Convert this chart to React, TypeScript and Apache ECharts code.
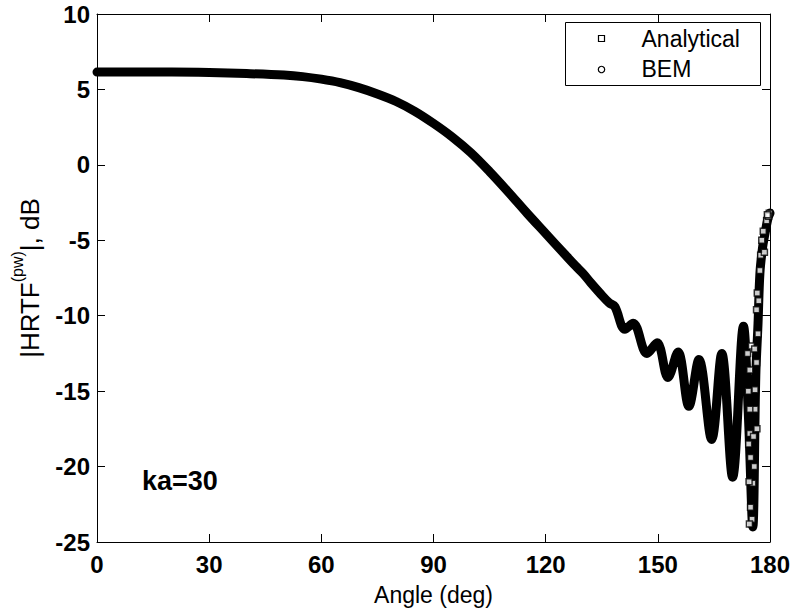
import React, { useEffect, useRef } from "react";
import * as echarts from "echarts";

// Angle (deg) and |HRTF| (dB)
const bemAngles = [
  0, 10, 20, 30, 40, 50, 55, 60, 65, 70, 75, 80, 85, 90, 95, 100, 105, 110, 115,
  120, 125, 128, 130, 132, 134.5, 137, 138.5, 141.2, 143.4, 147.1, 149.8, 152.7,
  155.4, 158.3, 161, 164.4, 167.1, 170, 172.9, 174.2, 175.4, 176.2, 176.8, 177.3,
  178, 178.7, 179.5, 180,
];
const bemValues = [
  6.15, 6.15, 6.15, 6.12, 6.05, 5.95, 5.85, 5.68, 5.45, 5.12, 4.7, 4.2, 3.55,
  2.75, 1.85, 0.8, -0.45, -1.8, -3.2, -4.55, -5.9, -6.7, -7.2, -7.8, -8.5, -9.15,
  -9.4, -10.9, -10.5, -12.5, -11.8, -14.1, -12.4, -16.0, -12.9, -18.2, -12.5,
  -20.7, -10.7, -16.5, -24.0, -14.0, -10.5, -7.2, -5.5, -4.5, -3.5, -3.2,
];
const anaAngles = [
  174.6, 176.0, 174.6, 176.0, 176.4, 177.3, 174.8, 175.4, 174.8, 176.8, 176.4,
  177.8, 179.1, 174.6, 179.8, 179.6, 175.2, 174.0, 174.2, 174.3, 174.4, 174.5,
  175.0, 175.6, 175.8, 175.9, 176.5, 176.6, 177.0, 177.5, 178.2, 178.5, 179.3,
];
const anaValues = [
  -13.6, -14.9, -17.8, -16.2, -9.6, -7.0, -19.4, -21.1, -22.7, -11.2, -13.1,
  -5.0, -3.7, -16.2, -3.2, -3.4, -23.5, -12.5, -15.0, -18.5, -21.0, -23.8,
  -12.0, -18.0, -20.0, -12.2, -17.5, -8.5, -9.0, -6.0, -4.4, -5.8, -3.3,
];
const xRange = { min: 0, max: 180, interval: 30 };
const yRange = { min: -25, max: 10, interval: 5 };
const xTitle = "Angle (deg)";
const annotation = "ka=30";
const legendNames = ["Analytical", "BEM"];

const FONT = "'Liberation Sans', Arial, Helvetica, sans-serif";

export default function App() {
  const ref = useRef<HTMLDivElement>(null);
  useEffect(() => {
    if (!ref.current) return;
    const chart = echarts.init(ref.current, null, { renderer: "svg" });
    const tickCommon = {
      show: true,
      inside: true,
      length: 8,
      lineStyle: { color: "#000", width: 1 },
    };
    const lineCommon = { show: true, onZero: false, lineStyle: { color: "#000", width: 1 } };
    const legendTextStyle = { fontSize: 23, fontFamily: FONT, fill: "#000", verticalAlign: "middle" };
    chart.setOption({
      animation: false,
      backgroundColor: "#fff",
      grid: { left: 97, right: 27, top: 14, bottom: 73, containLabel: false },
      xAxis: [
        {
          type: "value",
          position: "bottom",
          ...xRange,
          name: xTitle,
          nameLocation: "middle",
          nameGap: 41,
          nameTextStyle: { fontSize: 23, fontFamily: FONT, color: "#000" },
          axisLine: lineCommon,
          axisTick: tickCommon,
          splitLine: { show: false },
          axisLabel: { fontSize: 24, fontWeight: "bold", fontFamily: FONT, color: "#000", margin: 10 },
        },
        {
          type: "value",
          position: "top",
          ...xRange,
          axisLine: lineCommon,
          axisTick: tickCommon,
          splitLine: { show: false },
          axisLabel: { show: false },
        },
      ],
      yAxis: [
        {
          type: "value",
          position: "left",
          ...yRange,
          name: "{m||HRTF}{s|(pw)}{m||, dB}",
          nameLocation: "middle",
          nameRotate: 90,
          nameGap: 54,
          nameTextStyle: {
            fontSize: 26,
            fontFamily: FONT,
            color: "#000",
            rich: {
              m: { fontSize: 26, fontFamily: FONT, color: "#000", verticalAlign: "bottom", lineHeight: 34 },
              s: { fontSize: 16, fontFamily: FONT, color: "#000", verticalAlign: "top", lineHeight: 34 },
            },
          },
          axisLine: lineCommon,
          axisTick: tickCommon,
          splitLine: { show: false },
          axisLabel: { fontSize: 24, fontWeight: "bold", fontFamily: FONT, color: "#000", margin: 7 },
        },
        {
          type: "value",
          position: "right",
          ...yRange,
          axisLine: lineCommon,
          axisTick: tickCommon,
          splitLine: { show: false },
          axisLabel: { show: false },
        },
      ],
      graphic: [
        {
          type: "text",
          left: 142,
          top: 467,
          style: { text: annotation, fontSize: 27, fontWeight: "bold", fontFamily: FONT, fill: "#000" },
        },
        {
          type: "group",
          left: 565,
          top: 22,
          z: 100,
          children: [
            {
              type: "rect",
              shape: { x: 0, y: 0, width: 195, height: 63 },
              style: { fill: "#fff", stroke: "#000", lineWidth: 1 },
            },
            {
              type: "rect",
              shape: { x: 33, y: 13, width: 6, height: 6 },
              style: { fill: "#fff", stroke: "#000", lineWidth: 1.2 },
            },
            {
              type: "circle",
              shape: { cx: 36, cy: 47, r: 3.2 },
              style: { fill: "#fff", stroke: "#000", lineWidth: 1.2 },
            },
            { type: "text", x: 76, y: 16, style: { text: legendNames[0], ...legendTextStyle } },
            { type: "text", x: 76, y: 46, style: { text: legendNames[1], ...legendTextStyle } },
          ],
        },
      ],
      series: [
        {
          name: legendNames[0],
          type: "scatter",
          xAxisIndex: 0,
          yAxisIndex: 0,
          data: anaAngles.map((a, i) => [a, anaValues[i]]),
          symbol: "rect",
          symbolSize: 6,
          itemStyle: { color: "#fff", borderColor: "#000", borderWidth: 1.5 },
          z: 4,
          clip: false,
        },
        {
          name: legendNames[1],
          type: "line",
          xAxisIndex: 0,
          yAxisIndex: 0,
          data: bemAngles.map((a, i) => [a, bemValues[i]]),
          showSymbol: false,
          symbol: "circle",
          smooth: 0.35,
          lineStyle: { color: "#000", width: 9, cap: "round", join: "round" },
          itemStyle: { color: "#000" },
          z: 3,
          clip: false,
        },
      ],
    });
    return () => chart.dispose();
  }, []);
  return <div ref={ref} style={{ width: 797, height: 615, position: "absolute", left: 0, top: 0 }} />;
}
